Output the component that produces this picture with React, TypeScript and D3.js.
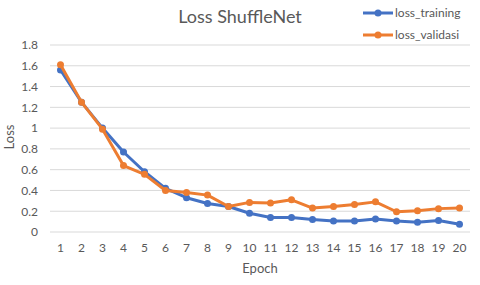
import React, { useEffect, useRef } from "react";
import * as d3 from "d3";

const width = 480;
const height = 285;
const margin = { left: 50, right: 10, top: 45, bottom: 53 };

const epochs = ["1", "2", "3", "4", "5", "6", "7", "8", "9", "10", "11", "12", "13", "14", "15", "16", "17", "18", "19", "20"];
const lossTraining = [1.56, 1.25, 1.0, 0.77, 0.58, 0.42, 0.33, 0.275, 0.245, 0.18, 0.14, 0.14, 0.12, 0.105, 0.105, 0.125, 0.105, 0.095, 0.11, 0.075];
const lossValidasi = [1.61, 1.25, 0.99, 0.64, 0.555, 0.4, 0.38, 0.355, 0.245, 0.285, 0.28, 0.31, 0.23, 0.245, 0.265, 0.29, 0.195, 0.205, 0.225, 0.23];
const yTicks = [0, 0.2, 0.4, 0.6, 0.8, 1, 1.2, 1.4, 1.6, 1.8];

const series = [
  { name: "loss_training", values: lossTraining, color: "#4472C4" },
  { name: "loss_validasi", values: lossValidasi, color: "#ED7D31" }
];

const font = "Lato, 'Open Sans', sans-serif";
const textColor = "#595959";

export default function App() {
  const ref = useRef<SVGSVGElement>(null);

  useEffect(() => {
    const svg = d3.select(ref.current);
    svg.selectAll("*").remove();

    const x = d3.scaleBand().domain(epochs).range([margin.left, width - margin.right]);
    const y = d3.scaleLinear().domain([0, 1.8]).range([height - margin.bottom, margin.top]);

    // gridlines
    svg.append("g")
      .selectAll("line")
      .data(yTicks)
      .enter()
      .append("line")
      .attr("x1", margin.left)
      .attr("x2", width - margin.right)
      .attr("y1", d => y(d))
      .attr("y2", d => y(d))
      .attr("stroke", "#d9d9d9")
      .attr("stroke-width", 1);

    const yAxis = svg.append("g")
      .attr("transform", `translate(${margin.left},0)`)
      .call(d3.axisLeft(y).tickValues(yTicks).tickSize(0).tickPadding(12).tickFormat(d => String(+d)));
    yAxis.select(".domain").remove();
    yAxis.selectAll("text").attr("fill", textColor).style("font-family", font).style("font-size", "12px");

    const xAxis = svg.append("g")
      .attr("transform", `translate(0,${height - margin.bottom})`)
      .call(d3.axisBottom(x).tickSize(0).tickPadding(11));
    xAxis.select(".domain").remove();
    xAxis.selectAll("text").attr("fill", textColor).style("font-family", font).style("font-size", "12px");

    const line = d3.line<number>()
      .x((_, i) => (x(epochs[i]) as number) + x.bandwidth() / 2)
      .y(d => y(d));

    series.forEach(s => {
      svg.append("path")
        .attr("d", line(s.values))
        .attr("fill", "none")
        .attr("stroke", s.color)
        .attr("stroke-width", 3)
        .attr("stroke-linejoin", "round");
      svg.append("g")
        .selectAll("circle")
        .data(s.values)
        .enter()
        .append("circle")
        .attr("cx", (_, i) => (x(epochs[i]) as number) + x.bandwidth() / 2)
        .attr("cy", d => y(d))
        .attr("r", 3.5)
        .attr("fill", s.color);
    });

    svg.append("text")
      .attr("x", 240)
      .attr("y", 23)
      .attr("text-anchor", "middle")
      .attr("fill", textColor)
      .style("font-family", font)
      .style("font-size", "18px")
      .text("Loss ShuffleNet");

    svg.append("text")
      .attr("transform", "translate(14,137) rotate(-90)")
      .attr("text-anchor", "middle")
      .attr("fill", textColor)
      .style("font-family", font)
      .style("font-size", "13px")
      .text("Loss");

    svg.append("text")
      .attr("x", 260)
      .attr("y", 273)
      .attr("text-anchor", "middle")
      .attr("fill", textColor)
      .style("font-family", font)
      .style("font-size", "13px")
      .text("Epoch");

    const legend = svg.append("g")
      .selectAll("g")
      .data(series)
      .enter()
      .append("g")
      .attr("transform", (_, i) => `translate(363,${13 + i * 22})`);
    legend.append("line")
      .attr("x1", 0)
      .attr("x2", 30)
      .attr("stroke", d => d.color)
      .attr("stroke-width", 3);
    legend.append("circle")
      .attr("cx", 15)
      .attr("r", 3.5)
      .attr("fill", d => d.color);
    legend.append("text")
      .attr("x", 32)
      .attr("dy", "0.35em")
      .attr("fill", textColor)
      .style("font-family", font)
      .style("font-size", "12px")
      .text(d => d.name);
  }, []);

  return (
    <svg
      ref={ref}
      width={width}
      height={height}
      style={{ position: "absolute", left: 0, top: 0, background: "#fff" }}
    />
  );
}
